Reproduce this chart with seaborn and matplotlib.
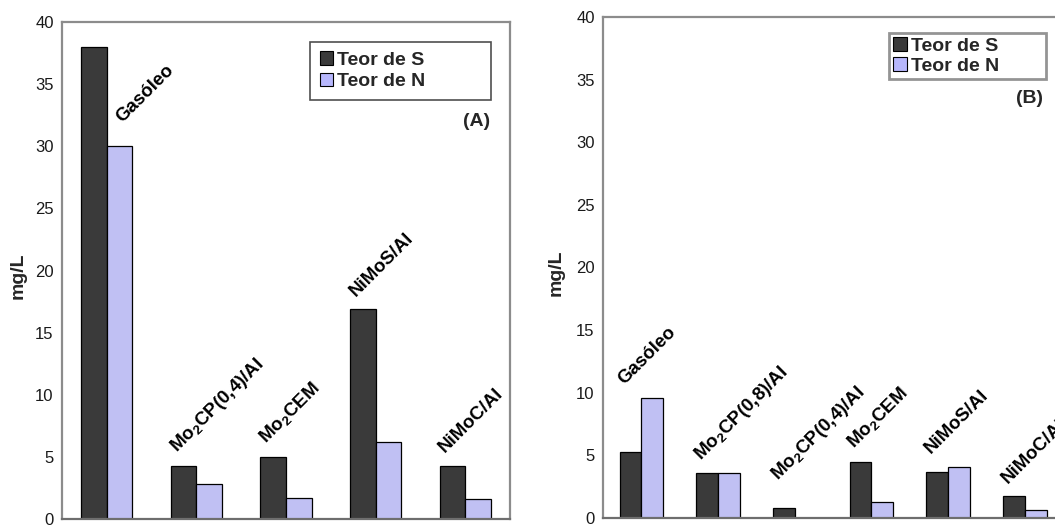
import numpy as np
import pandas as pd
import seaborn as sns
import matplotlib.pyplot as plt
from matplotlib.patches import Patch

# ---------------- data ----------------
series = ["Teor de S", "Teor de N"]

cats_a = ["Gasóleo", r"Mo$_\mathbf{2}$CP(0,4)/Al", r"Mo$_\mathbf{2}$CEM", "NiMoS/Al", "NiMoC/Al"]
s_a = [38.0, 4.3, 5.0, 16.9, 4.3]
n_a = [30.0, 2.8, 1.7, 6.2, 1.6]

cats_b = ["Gasóleo", r"Mo$_\mathbf{2}$CP(0,8)/Al", r"Mo$_\mathbf{2}$CP(0,4)/Al",
          r"Mo$_\mathbf{2}$CEM", "NiMoS/Al", "NiMoC/Al"]
s_b = [5.3, 3.6, 0.8, 4.5, 3.7, 1.75]
n_b = [9.6, 3.6, 0.0, 1.3, 4.1, 0.6]

y_ticks = [0, 5, 10, 15, 20, 25, 30, 35, 40]
panel_tags = ["(A)", "(B)"]
y_title = "mg/L"

# ---------------- style ----------------
sns.set_style("white")
plt.rcParams["font.family"] = ["Liberation Sans", "DejaVu Sans"]
plt.rcParams["mathtext.fontset"] = "custom"
plt.rcParams["mathtext.rm"] = "Liberation Sans"
plt.rcParams["mathtext.bf"] = "Liberation Sans:bold"

palette = {"Teor de S": "#3a3a3a", "Teor de N": "#b7b7fc"}
frame_col = "#8c8c8c"
BAR_W = 0.57

fig = plt.figure(figsize=(10.55, 5.27), dpi=100)
ax_a = fig.add_axes([0.0588, 0.0152, 0.4246, 0.943])
ax_b = fig.add_axes([0.5716, 0.0171, 0.4360, 0.9507])


def long_df(cats, s, n):
    return pd.DataFrame({
        "cat": list(cats) * 2,
        "serie": [series[0]] * len(cats) + [series[1]] * len(cats),
        "val": list(s) + list(n),
    })


def draw(ax, cats, s, n, tag, leg_box, leg_edge, leg_lw, leg_pad, leg_space,
         tag_pos, label_over, ylab_x):
    df = long_df(cats, s, n)
    sns.barplot(data=df, x="cat", y="val", hue="serie", order=cats, hue_order=series,
                palette=palette, width=BAR_W, edgecolor="black", linewidth=0.9,
                errorbar=None, legend=False, ax=ax)
    k = len(cats)
    ax.set_xlim(-0.5, k - 0.5)
    ax.set_ylim(0, 40)
    ax.set_yticks(y_ticks)
    ax.set_yticklabels([str(t) for t in y_ticks], fontsize=12, color="#1a1a1a")
    ax.set_xticks(np.arange(k + 1) - 0.5)
    ax.set_xticklabels([])
    ax.set_xlabel("")
    ax.set_ylabel(y_title, fontsize=14, fontweight="bold")
    ax.yaxis.set_label_coords(ylab_x, 0.49)
    ax.tick_params(axis="y", direction="out", length=4, width=1, color=frame_col, pad=2)
    ax.tick_params(axis="x", direction="out", length=7, width=1, color=frame_col)
    for sp in ax.spines.values():
        sp.set_visible(True)
        sp.set_color(frame_col)
        sp.set_linewidth(1.6)
    ax.spines["bottom"].set_color("#6e6e6e")

    # category labels above groups
    for i, (c, sv, nv) in enumerate(zip(cats, s, n)):
        dx, dy = label_over.get(i, (-BAR_W / 2 + 0.06, max(sv, nv) + 1.0))
        ax.text(i + dx, dy, c, rotation=45, rotation_mode="anchor", ha="left", va="baseline",
                fontsize=13.5, fontweight="bold", color="black")

    handles = [Patch(facecolor=palette[sr], edgecolor="black", linewidth=0.8) for sr in series]
    leg = ax.legend(handles, series, loc="upper left", bbox_to_anchor=leg_box, mode="expand",
                    prop={"weight": "bold", "size": 14}, frameon=True,
                    fancybox=False, handlelength=0.7, handleheight=0.7, handletextpad=0.2,
                    labelspacing=leg_space, borderpad=leg_pad, borderaxespad=0.0)
    leg.get_frame().set_edgecolor(leg_edge)
    leg.get_frame().set_linewidth(leg_lw)
    leg.get_frame().set_facecolor("white")
    ax.text(tag_pos[0], tag_pos[1], tag, transform=ax.transAxes, ha="right", va="center",
            fontsize=14, fontweight="bold")


draw(ax_a, cats_a, s_a, n_a, panel_tags[0],
     leg_box=(0.554, 0.845, 0.404, 0.115), leg_edge="#222222", leg_lw=1.2,
     leg_pad=0.48, leg_space=0.2,
     tag_pos=(0.955, 0.800),
     label_over={0: (0.17, n_a[0] + 1.9)}, ylab_x=-0.078)
draw(ax_b, cats_b, s_b, n_b, panel_tags[1],
     leg_box=(0.622, 0.876, 0.341, 0.092), leg_edge="#7a7a7a", leg_lw=2.0,
     leg_pad=0.2, leg_space=0.15,
     tag_pos=(0.957, 0.838),
     label_over={2: (-BAR_W / 2 + 0.06, s_b[2] + 2.2)}, ylab_x=-0.083)

fig.savefig("out.png", dpi=100)
